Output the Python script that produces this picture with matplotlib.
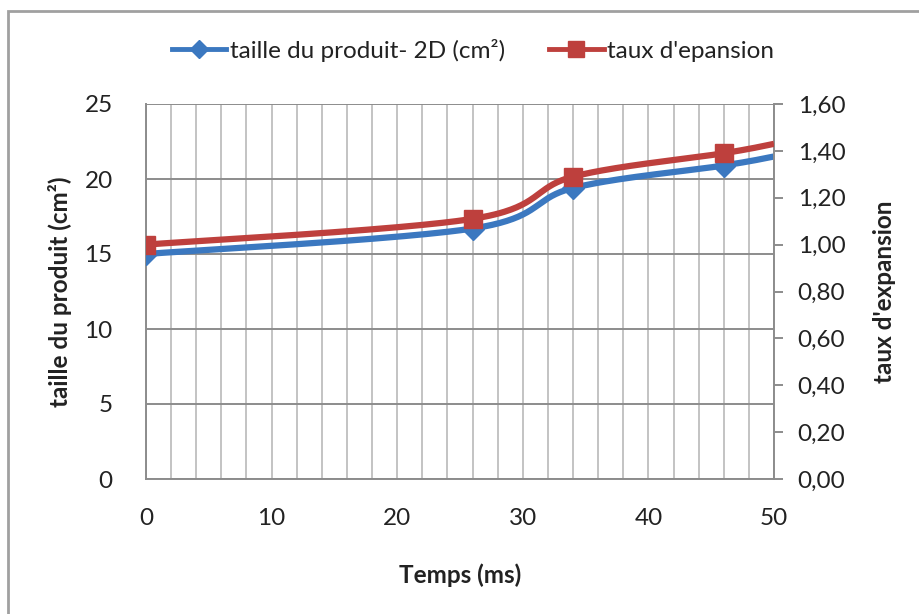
import numpy as np
import matplotlib
matplotlib.use("Agg")
import matplotlib.pyplot as plt
from matplotlib.lines import Line2D
from matplotlib.patches import Rectangle
from matplotlib.ticker import FuncFormatter

plt.rcParams["font.family"] = ["Lato", "DejaVu Sans"]

temps = [0, 26, 34, 46, 50]
taille = [15.0, 16.7, 19.4, 20.9, 21.5]
taux = [1.00, 1.11, 1.29, 1.39, 1.43]
n_markers = 4  # the last value only continues the curve to the axis end

BLUE = "#3B78C0"
RED = "#BE403D"
GRID_H = "#8C8C8C"
GRID_V = "#C3C3C3"
TXT = "#222222"
FS = 17.5


def smooth(x, y, n=60):
    """Bezier smoothing with the usual 1/6 tangent rule (spreadsheet style)."""
    pts = np.column_stack([x, y]).astype(float)
    out = [pts[0]]
    t = np.linspace(0, 1, n)[1:, None]
    for i in range(len(pts) - 1):
        p0 = pts[i - 1] if i > 0 else pts[i]
        p1, p2 = pts[i], pts[i + 1]
        p3 = pts[i + 2] if i + 2 < len(pts) else p2
        c1 = p1 + (p2 - p0) / 6
        c2 = p2 - (p3 - p1) / 6
        seg = ((1 - t) ** 3 * p1 + 3 * (1 - t) ** 2 * t * c1
               + 3 * (1 - t) * t ** 2 * c2 + t ** 3 * p2)
        out.extend(seg)
    out = np.array(out)
    return out[:, 0], out[:, 1]


W, H = 919, 614
fig = plt.figure(figsize=(W / 100, H / 100), dpi=100)
fig.patches.append(Rectangle((8 / W, -0.1), 2, (H - 11) / H + 0.1,
                             transform=fig.transFigure, fill=False,
                             ec="#A0A0A0", lw=2))

x0, x1, ytop, ybot = 146, 774, 104, 479
ax = fig.add_axes([x0 / W, (H - ybot) / H, (x1 - x0) / W, (ybot - ytop) / H])
ax2 = ax.twinx()

ax.set_xlim(0, 50)
ax.set_ylim(0, 25)
ax2.set_ylim(0, 1.6)

ax.set_xticks(np.arange(0, 51, 10))
ax.set_xticks(np.arange(0, 51, 2), minor=True)
ax.set_yticks(np.arange(0, 26, 5))
ax2.set_yticks(np.arange(0, 1.61, 0.2))
ax2.yaxis.set_major_formatter(FuncFormatter(lambda v, p: f"{v:.2f}".replace(".", ",")))

ax.grid(axis="x", which="both", color=GRID_V, lw=1.4)
ax.grid(axis="y", which="major", color=GRID_H, lw=1.4)
ax.set_axisbelow(True)

for a in (ax, ax2):
    for s in a.spines.values():
        s.set_visible(False)
for a, side in ((ax, "left"), (ax, "bottom"), (ax2, "right")):
    a.spines[side].set_visible(True)
    a.spines[side].set_color(GRID_H)
    a.spines[side].set_linewidth(1.4)

ax.tick_params(axis="both", which="both", length=0, labelsize=FS, labelcolor=TXT)
ax.tick_params(axis="x", pad=21)
ax.tick_params(axis="y", pad=24)
ax2.tick_params(axis="y", length=6.5, width=1.4, color=GRID_H, direction="out",
                labelsize=FS, labelcolor=TXT, pad=10.5)

bx, by = smooth(temps, taille)
ax.plot(bx, by, color=BLUE, lw=4.5, solid_capstyle="butt", zorder=3)
ax.plot(temps[:n_markers], taille[:n_markers], ls="none", marker="D",
        ms=11, color=BLUE, zorder=4)

rx, ry = smooth(temps, taux)
ax2.plot(rx, ry, color=RED, lw=4.5, solid_capstyle="butt", zorder=3)
ax2.plot(temps[:n_markers], taux[:n_markers], ls="none", marker="s",
         ms=13.5, color=RED, zorder=4)

fig.text(460 / W, 1 - 575 / H, "Temps (ms)", ha="center", va="center",
         fontsize=FS, fontweight="bold", color=TXT)
fig.text(60 / W, 1 - 292 / H, "taille du produit (cm²)", ha="center", va="center",
         rotation=90, fontsize=FS, fontweight="bold", color=TXT)
fig.text(884 / W, 1 - 292 / H, "taux d'expansion", ha="center", va="center",
         rotation=90, fontsize=FS, fontweight="bold", color=TXT)

handles = [
    Line2D([], [], color=BLUE, lw=3.5, marker="D", ms=9),
    Line2D([], [], color=RED, lw=3.5, marker="s", ms=11),
]
fig.legend(handles, ["taille du produit- 2D (cm²)", "taux d'epansion"],
           loc="center", bbox_to_anchor=(473 / W, 1 - 50 / H), ncol=2,
           frameon=False, fontsize=FS, handlelength=2.25, handletextpad=0.15,
           columnspacing=1.8, labelcolor=TXT)

fig.savefig("out.png", dpi=100)
